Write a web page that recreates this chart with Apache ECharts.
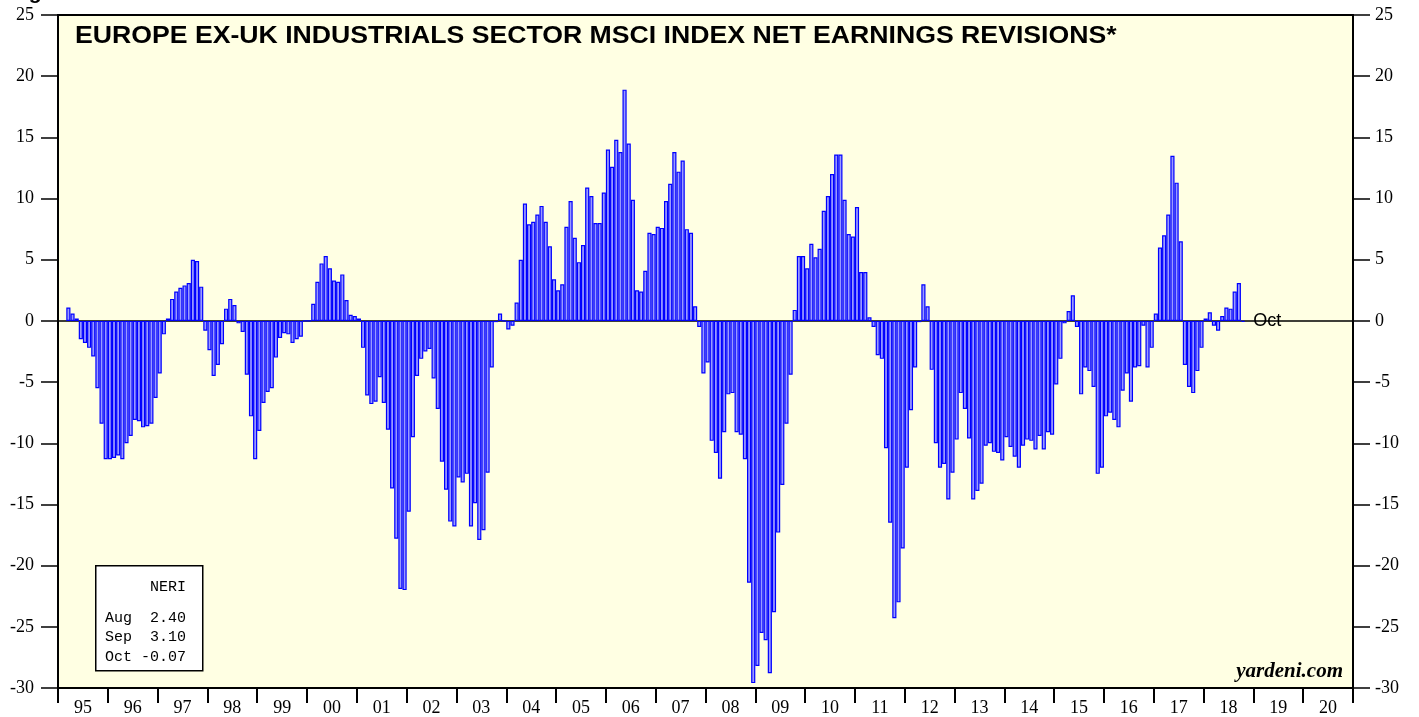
<!DOCTYPE html>
<html>
<head>
<meta charset="utf-8">
<title>Europe ex-UK Industrials NERI</title>
<script src="https://cdn.jsdelivr.net/npm/echarts@6/dist/echarts.min.js"></script>
<style>
  html, body { margin: 0; padding: 0; background: #fff; }
  #main { width: 1419px; height: 717px; }
</style>
</head>
<body>
<div id="main"></div>
<script>
/* global echarts */
// year labels on the time axis (1995 - 2020)
var yearLabels = ['95','96','97','98','99','00','01','02','03','04','05','06','07','08','09','10',
                  '11','12','13','14','15','16','17','18','19','20'];
var monthNames = ['Jan','Feb','Mar','Apr','May','Jun','Jul','Aug','Sep','Oct','Nov','Dec'];

// monthly net earnings revisions, Jan 1995 .. Oct 2018 (one row per year)
var neri = [
  null, null, 1.1, 0.6, 0.2, -1.5, -1.8, -2.2, -2.9, -5.5, -8.4, -11.3,
  -11.3, -11.2, -11.0, -11.3, -10.0, -9.4, -8.1, -8.2, -8.7, -8.6, -8.4, -6.3,
  -4.3, -1.1, 0.2, 1.8, 2.4, 2.7, 2.9, 3.1, 5.0, 4.9, 2.8, -0.8,
  -2.4, -4.5, -3.6, -1.9, 1.0, 1.8, 1.3, -0.2, -0.9, -4.4, -7.8, -11.3,
  -9.0, -6.7, -5.8, -5.5, -3.0, -1.4, -1.0, -1.1, -1.8, -1.5, -1.3, 0,
  0, 1.4, 3.2, 4.7, 5.3, 4.3, 3.3, 3.2, 3.8, 1.7, 0.5, 0.4,
  0.2, -2.2, -6.1, -6.8, -6.6, -4.6, -6.7, -8.9, -13.7, -17.8, -21.9, -22.0,
  -15.6, -9.5, -4.5, -3.1, -2.5, -2.3, -4.7, -7.2, -11.5, -13.8, -16.4, -16.8,
  -12.8, -13.2, -12.5, -16.8, -14.9, -17.9, -17.1, -12.4, -3.8, -0.1, 0.6, 0,
  -0.7, -0.4, 1.5, 5.0, 9.6, 7.9, 8.1, 8.7, 9.4, 8.1, 6.1, 3.4,
  2.5, 3.0, 7.7, 9.8, 6.8, 4.8, 6.2, 10.9, 10.2, 8.0, 8.0, 10.5,
  14.0, 12.6, 14.8, 13.8, 18.9, 14.5, 9.9, 2.5, 2.4, 4.1, 7.2, 7.1,
  7.7, 7.6, 9.8, 11.2, 13.8, 12.2, 13.1, 7.5, 7.2, 1.2, -0.5, -4.3,
  -3.4, -9.8, -10.8, -12.9, -9.1, -6.0, -5.9, -9.1, -9.3, -11.3, -21.4, -29.6,
  -28.2, -25.5, -26.1, -28.8, -23.8, -17.3, -13.4, -8.4, -4.4, 0.9, 5.3, 5.3,
  4.3, 6.3, 5.2, 5.9, 9.0, 10.2, 12.0, 13.6, 13.6, 9.9, 7.1, 6.9,
  9.3, 4.0, 4.0, 0.3, -0.5, -2.8, -3.1, -10.4, -16.5, -24.3, -23.0, -18.6,
  -12.0, -7.3, -3.8, -0.1, 3.0, 1.2, -4.0, -10.0, -12.0, -11.7, -14.6, -12.4,
  -9.7, -5.9, -7.2, -9.6, -14.6, -13.9, -13.3, -10.2, -10.0, -10.7, -10.8, -11.4,
  -9.5, -10.3, -11.1, -12.0, -10.2, -9.7, -9.8, -10.5, -9.4, -10.5, -9.1, -9.3,
  -5.2, -3.1, -0.2, 0.8, 2.1, -0.5, -6.0, -3.8, -4.1, -5.4, -12.5, -12.0,
  -7.8, -7.5, -8.1, -8.7, -5.7, -4.3, -6.6, -3.8, -3.7, -0.4, -3.8, -2.2,
  0.6, 6.0, 7.0, 8.7, 13.5, 11.3, 6.5, -3.6, -5.4, -5.9, -4.1, -2.2,
  0.2, 0.7, -0.4, -0.8, 0.4, 1.1, 1.0, 2.4, 3.1, -0.07
];

var yMin = -30, yMax = 25, yStep = 5;

// one category per month over the whole axis
var monthCats = [];
for (var y = 0; y < yearLabels.length; y++) {
  for (var m = 0; m < 12; m++) monthCats.push(monthNames[m] + ' ' + yearLabels[y]);
}

// last point gets the "Oct" tag
var lastIdx = neri.length - 1;
var barData = neri.map(function (v, i) {
  if (i !== lastIdx) return v;
  return {
    value: v,
    label: {
      show: true, position: 'right', distance: 8,
      formatter: monthNames[lastIdx % 12],
      color: '#000', fontFamily: 'Liberation Sans', fontSize: 18
    }
  };
});

// small box with the last three readings
var boxRows = [];
for (var k = lastIdx - 2; k <= lastIdx; k++) {
  var s = neri[k].toFixed(2);
  while (s.length < 5) s = ' ' + s;
  boxRows.push(monthNames[k % 12] + ' ' + s);
}

var chart = echarts.init(document.getElementById('main'), null, { renderer: 'canvas' });

var axisFont = { color: '#000', fontFamily: 'Liberation Serif', fontSize: 18 };

chart.setOption({
  animation: false,
  backgroundColor: '#fff',
  grid: {
    left: 58, right: 66, top: 15, bottom: 29,
    show: true, backgroundColor: '#ffffe3', borderColor: '#000', borderWidth: 2
  },
  xAxis: [
    {
      // monthly axis: its line is the zero line
      type: 'category',
      data: monthCats,
      axisLine: { show: true, onZero: true, lineStyle: { color: '#000', width: 1.5 } },
      axisTick: { show: false },
      axisLabel: { show: false },
      splitLine: { show: false }
    },
    {
      // year axis, labels centred between year ticks
      type: 'category',
      data: yearLabels,
      position: 'bottom',
      axisLine: { show: true, onZero: false, lineStyle: { color: '#000', width: 2 } },
      axisTick: { show: true, interval: 0, length: 15, lineStyle: { color: '#000', width: 2 } },
      axisLabel: Object.assign({ interval: 0, margin: 11 }, axisFont),
      splitLine: { show: false }
    }
  ],
  yAxis: [
    {
      type: 'value', position: 'left',
      min: yMin, max: yMax, interval: yStep,
      axisLine: { show: true, lineStyle: { color: '#000', width: 2 } },
      axisTick: { show: true, inside: false, length: 17, lineStyle: { color: '#000', width: 1.5 } },
      axisLabel: Object.assign({ margin: 24 }, axisFont),
      splitLine: { show: false }
    },
    {
      type: 'value', position: 'right',
      min: yMin, max: yMax, interval: yStep,
      axisLine: { show: true, lineStyle: { color: '#000', width: 2 } },
      axisTick: { show: true, inside: false, length: 17, lineStyle: { color: '#000', width: 1.5 } },
      axisLabel: Object.assign({ margin: 22 }, axisFont),
      splitLine: { show: false }
    }
  ],
  series: [
    {
      name: 'NERI',
      type: 'bar',
      xAxisIndex: 0,
      yAxisIndex: 0,
      data: barData,
      barCategoryGap: '0%',
      itemStyle: { color: '#9a9aff', borderColor: '#0000ff', borderWidth: 1.2 },
      emphasis: { disabled: true }
    }
  ],
  graphic: [
    {
      type: 'text', left: 10, top: -17,
      style: { text: 'Figure 6.', fill: '#000', font: 'bold 21px "Liberation Sans"' }
    },
    {
      // title, widened a little to the reference width
      type: 'text', x: 75, y: 24, scaleX: 1.11,
      style: {
        text: 'EUROPE EX-UK INDUSTRIALS SECTOR MSCI INDEX NET EARNINGS REVISIONS*',
        fill: '#000', font: 'bold 24px "Liberation Sans"'
      }
    },
    {
      type: 'rect', left: 95, top: 565,
      shape: { width: 107, height: 105 },
      style: { fill: '#fff', stroke: '#000', lineWidth: 1.5 }
    },
    {
      type: 'text', left: 105, top: 580,
      style: { text: '     NERI', fill: '#000', font: '15px "Liberation Mono"' }
    },
    {
      type: 'text', left: 105, top: 608,
      style: {
        text: boxRows.join('\n'),
        fill: '#000', font: '15px "Liberation Mono"', lineHeight: 19.5
      }
    },
    {
      type: 'text', right: 76, top: 661,
      style: { text: 'yardeni.com', fill: '#000', font: 'italic bold 21px "Liberation Serif"' }
    }
  ]
});
</script>
</body>
</html>
